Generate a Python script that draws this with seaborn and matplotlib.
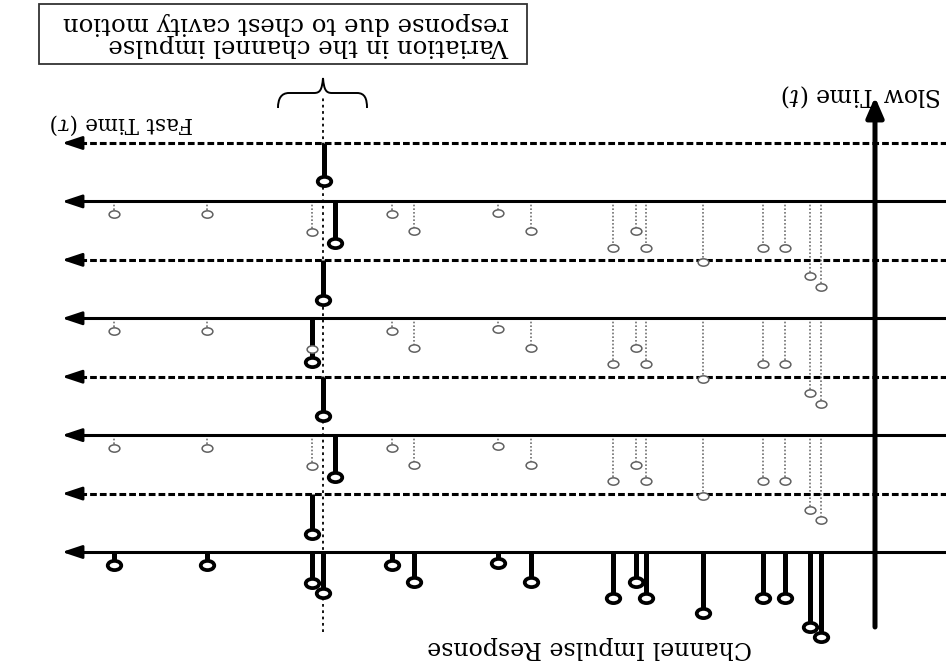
import numpy as np
import pandas as pd
import matplotlib
matplotlib.use("Agg")
import matplotlib.pyplot as plt
from matplotlib.path import Path
from matplotlib.patches import PathPatch, Rectangle
import seaborn as sns

# ---------------- data ----------------
# fast-time delay of each static (clutter) tap, arbitrary units measured from the slow-time axis
static_delay = [76.1, 66.8, 56.3, 48.3, 46.1, 37.7, 34.4, 26.2, 23.9, 22.9, 17.2, 11.2, 9.0, 6.5, 5.4]
# amplitude of each static tap (unit = one slow-time step)
static_amp = [0.22, 0.22, 0.53, 0.22, 0.51, 0.19, 0.51, 0.79, 0.51, 0.79, 1.04, 0.79, 0.79, 1.28, 1.46]
# slow-time snapshots (0 = first one)
slow_rows = [0, 1, 2, 3, 4, 5, 6, 7]
row_style = ["solid", "dashed", "solid", "dashed", "solid", "dashed", "solid", "dashed"]
# snapshots on which the static response is repeated (faded)
faded_rows = [2, 4, 6]
# tap that moves with the chest cavity: delay and amplitude per snapshot
moving_delay = [55.2, 56.3, 54.0, 55.2, 56.3, 55.2, 54.0, 55.1]
moving_amp = [0.70, 0.70, 0.71, 0.68, 0.74, 0.68, 0.72, 0.65]

box_lines = ["Variation in the channel impulse", "response due to chest cavity motion"]
label_fast = r"Fast Time ($\tau$)"
label_slow = r"Slow Time ($t$)"
label_resp = "Channel Impulse Response"

# ---------------- style ----------------
sns.set_theme(style="white")
plt.rcParams["font.family"] = ["DejaVu Serif", "DejaVu Sans"]
plt.rcParams["mathtext.fontset"] = "dejavuserif"

W, H = 946, 664
fig = plt.figure(figsize=(W / 100, H / 100), dpi=100)
ax = fig.add_axes([0, 0, 1, 1])

# layout helper: picture pixel -> data coordinates (picture is shown rotated by 180 degrees)
X0, Y0, SX, SY = 875.0, 552.0, 10.0, 58.43
def P(x, y):
    return ((X0 - x) / SX, (y - Y0) / SY)

# ---------------- tables ----------------
bold = pd.DataFrame({
    "delay": static_delay + moving_delay,
    "row": [0] * len(static_delay) + slow_rows,
    "amp": static_amp + moving_amp,
})
bold["base"] = -bold["row"]
bold["tip"] = bold["base"] + bold["amp"]

faded = pd.DataFrame({
    "delay": static_delay * len(faded_rows),
    "row": [r for r in faded_rows for _ in static_delay],
    "amp": static_amp * len(faded_rows),
})
faded["base"] = -faded["row"]
faded["tip"] = faded["base"] + faded["amp"]

# ellipse marker
uc = Path.unit_circle()
ell = Path(uc.vertices * np.array([1.0, 0.68]), uc.codes)

# ---------------- baselines (one per slow-time snapshot) ----------------
x_right, x_tip = P(W + 5, 0)[0], P(62, 0)[0]
for r, st in zip(slow_rows, row_style):
    ls = "solid" if st == "solid" else (0, (2.2, 1.0))
    ax.hlines(-r, x_right, x_tip - 1.2, colors="black", lw=2.2, linestyles=ls, zorder=2)
    ax.annotate("", xy=(x_tip, -r), xytext=(x_tip - 2.0, -r),
                arrowprops=dict(arrowstyle="-|>,head_length=0.6,head_width=0.2",
                                color="black", lw=2.0, shrinkA=0, shrinkB=0,
                                mutation_scale=20), zorder=3)

# slow-time axis
ax.annotate("", xy=(0, P(0, 97)[1]), xytext=(0, P(0, 627)[1]),
            arrowprops=dict(arrowstyle="-|>,head_length=0.6,head_width=0.26",
                            color="black", lw=3.6, shrinkA=0, shrinkB=0,
                            mutation_scale=20), zorder=3)

# faded copies of the static response
ax.vlines(faded["delay"], faded["base"], faded["tip"], colors="#707070", lw=1.2,
          linestyles=(0, (1.0, 1.2)), zorder=1.5)
sns.scatterplot(x=faded["delay"], y=faded["tip"], marker=ell, s=60, color="white",
                edgecolor="#606060", linewidth=1.1, zorder=4, ax=ax, legend=False)

# bold taps
ax.vlines(bold["delay"], bold["base"], bold["tip"], colors="black", lw=3.6, zorder=3)
sns.scatterplot(x=bold["delay"], y=bold["tip"], marker=ell, s=95, color="white",
                edgecolor="black", linewidth=2.7, zorder=5, ax=ax, legend=False)

# dotted reference line through the moving tap
ax.vlines(np.mean(moving_delay), P(0, 632)[1], P(0, 97)[1], colors="black", lw=1.3,
          linestyles=(0, (1.5, 2.0)), zorder=2.5)

# curly brace
bx = [(278, 108), (278, 99), (281, 93), (289, 93), (314, 93), (320, 93), (322, 90), (323, 78),
      (324, 90), (326, 93), (332, 93), (357, 93), (365, 93), (367, 99), (367, 108)]
codes = [Path.MOVETO, Path.CURVE4, Path.CURVE4, Path.CURVE4, Path.LINETO,
         Path.CURVE4, Path.CURVE4, Path.CURVE4, Path.CURVE4, Path.CURVE4, Path.CURVE4,
         Path.LINETO, Path.CURVE4, Path.CURVE4, Path.CURVE4]
ax.add_patch(PathPatch(Path([P(*p) for p in bx], codes), fill=False, ec="black", lw=1.4))

# text box
(bx0, by0), (bx1, by1) = P(39, 4), P(527, 64)
ax.add_patch(Rectangle((bx0, by0), bx1 - bx0, by1 - by0, fill=False, ec="#333333", lw=1.3))
for line, yb in zip(box_lines, [39, 17]):
    ax.text(*P(509, yb), line, rotation=180, rotation_mode="anchor", ha="left",
            va="baseline", fontsize=17.6, color="black")

ax.text(*P(122, 124), label_fast, rotation=180, rotation_mode="anchor", ha="center",
        va="center", fontsize=15.5, color="black")
ax.text(*P(862, 95), label_slow, rotation=180, rotation_mode="anchor", ha="center",
        va="center", fontsize=17, color="black")
ax.text(*P(590, 647), label_resp, rotation=180, rotation_mode="anchor", ha="center",
        va="center", fontsize=17, color="black")

ax.set_xlim(P(0, 0)[0], P(W, 0)[0])
ax.set_ylim(P(0, H)[1], P(0, 0)[1])
ax.axis("off")
fig.savefig("out.png", dpi=100)
